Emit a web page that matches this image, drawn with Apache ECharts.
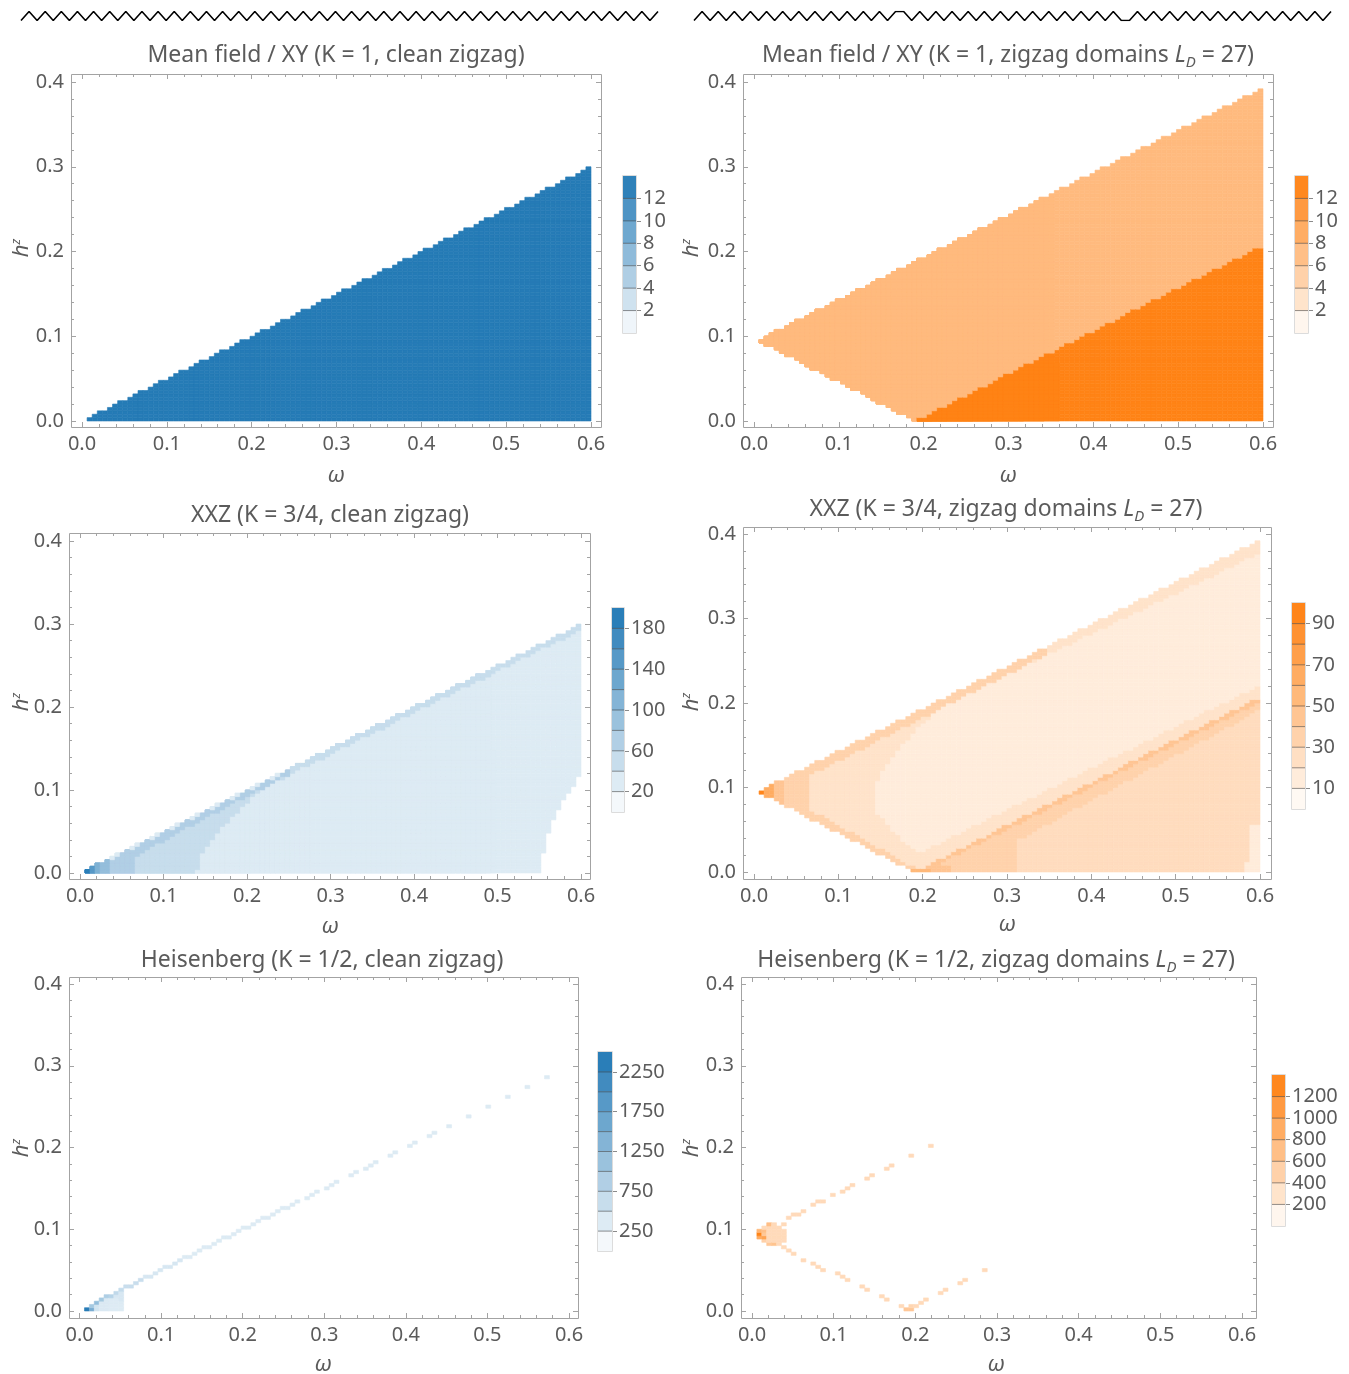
<!DOCTYPE html>
<html><head><meta charset="utf-8">
<script src="https://cdn.jsdelivr.net/npm/echarts@6/dist/echarts.min.js"></script>
<style>html,body{margin:0;padding:0;background:#fff}#c{width:1349px;height:1374px}</style>
</head><body><div id="c"></div><script>
// ================= DATA =================
const omegaTicks = [0.0, 0.1, 0.2, 0.3, 0.4, 0.5, 0.6];
const hTicks = [0.0, 0.1, 0.2, 0.3, 0.4];
const cellW = 0.006, cellH = 0.004;      // scan spacing in omega and h^z

// chain sketches drawn above the two columns (0 = low vertex, 1 = high vertex)
const zigzagClean = [0,1,0,1,0,1,0,1,0,1,0,1,0,1,0,1,0,1,0,1,0,1,0,1,0,1,0,1,0,1,0,1,0,1,0,1,0,1,0,1,
                     0,1,0,1,0,1,0,1,0,1,0,1,0,1,0,1,0,1,0,1,0,1,0,1,0,1,0,1,0,1,0,1,0,1,0,1,0,1,0,1];
const zigzagDomains = [0,1,0,1,0,1,0,1,0,1,0,1,0,1,0,1,0,1,0,1,0,1,0,1,0,1,
                       1,
                       0,1,0,1,0,1,0,1,0,1,0,1,0,1,0,1,0,1,0,1,0,1,0,1,0,1,0,
                       0,
                       1,0,1,0,1,0,1,0,1,0,1,0,1,0,1,0,1,0,1,0,1,0,1,0,1];

// Panel titles
const titles = [
  ['Mean field / XY (K = 1, clean zigzag)', null],
  ['Mean field / XY (K = 1, zigzag domains ', ' = 27)'],
  ['XXZ (K = 3/4, clean zigzag)', null],
  ['XXZ (K = 3/4, zigzag domains ', ' = 27)'],
  ['Heisenberg (K = 1/2, clean zigzag)', null],
  ['Heisenberg (K = 1/2, zigzag domains ', ' = 27)']
];

// Colour-bar levels and labelled values
const cbLevels1 = [0,2,4,6,8,10,12,14];
const cbLabels1 = [2,4,6,8,10,12];
const cbLevels2 = [0,2,4,6,8,10,12,14];
const cbLabels2 = [2,4,6,8,10,12];
const cbLevels3 = [0,20,40,60,80,100,120,140,160,180,200];
const cbLabels3 = [20,60,100,140,180];
const cbLevels4 = [0,10,20,30,40,50,60,70,80,90,100];
const cbLabels4 = [10,30,50,70,90];
const cbLevels5 = [0,250,500,750,1000,1250,1500,1750,2000,2250,2500];
const cbLabels5 = [250,750,1250,1750,2250];
const cbLevels6 = [0,200,400,600,800,1000,1200,1400];
const cbLabels6 = [200,400,600,800,1000,1200];

// Panel 1: mean field, clean zigzag  (region [omega,h] polygon and its value)
const mfCleanSupport = [[0.005,0],[0.61,0],[0.61,0.305],[0.005,0.0025]];
const mfCleanBase = 13.6;
const mfCleanLayers = [];

// Panel 2: mean field, domains
const mfDomainSupport = [[0.004,0.095],[0.61,0.398],[0.61,0],[0.19,0]];
const mfDomainBase = 7.5;
const mfDomainLayers = [
  [13.6, [[0.19,0],[0.61,0],[0.61,0.2125]]]
];

// Panel 3: XXZ, clean zigzag
const xxzCleanSupport = [[0.005,0],[0.552,0],[0.552,0.024],[0.558,0.024],[0.558,0.048],[0.564,0.048],
  [0.564,0.064],[0.570,0.064],[0.570,0.076],[0.576,0.076],[0.576,0.088],[0.582,0.088],[0.582,0.096],
  [0.588,0.096],[0.588,0.104],[0.594,0.104],[0.594,0.116],[0.61,0.116],[0.61,0.305],[0.005,0.0025]];
const xxzCleanBase = 30;
const xxzCleanLayers = [
  [50, [[0.005,0],[0.14,0],[0.146,0.024],[0.158,0.04],[0.17,0.055],[0.183,0.067],[0.2,0.084],[0.216,0.098],
        [0.236,0.11],[0.255,0.12],[0.4,0.1925],[0.61,0.2975],[0.61,0.4],[0.005,0.4]]],
  [70, [[0.036,0],[0.068,0],[0.068,0.02],[0.12,0.05],[0.25,0.118],[0.25,0.4],[0.036,0.4]]],
  [30, [[0.036,0.016],[0.25,0.123],[0.25,0.4],[0.036,0.4]]],
  [95, [[0.024,0],[0.036,0],[0.036,0.4],[0.024,0.4]]],
  [115,[[0.018,0],[0.024,0],[0.024,0.4],[0.018,0.4]]],
  [150,[[0.012,0],[0.018,0],[0.018,0.4],[0.012,0.4]]],
  [190,[[0.006,0],[0.012,0],[0.012,0.4],[0.006,0.4]]]
];

// Panel 4: XXZ, domains
const xxzDomainSupport = [[0.004,0.095],[0.61,0.398],[0.61,0],[0.19,0]];
const xxzDomainBase = 22;
const xxzDomainLayers = [
  [27, [[0.19,0],[0.61,0],[0.61,0.2125]]],
  [15, [[0.144,0.094],[0.147,0.07],[0.16,0.053],[0.176,0.038],[0.195,0.022],[0.61,0.226],[0.61,0.382],
        [0.334,0.25],[0.295,0.235],[0.254,0.215],[0.224,0.195],[0.2,0.176],[0.183,0.156],[0.167,0.14],
        [0.156,0.124],[0.144,0.105]]],
  [35, [[0.004,0.095],[0.35,0.268],[0.35,0.259],[0.03,0.095],[0.2,0],[0.19,0]]],
  [35, [[0.19,0],[0.61,0.2125],[0.61,0.197],[0.312,0.037],[0.312,0]]],
  [45, [[0.19,0],[0.61,0.2125],[0.61,0.206],[0.2,0]]],
  [35, [[0.036,0],[0.066,0],[0.066,0.4],[0.036,0.4]]],
  [45, [[0.024,0],[0.036,0],[0.036,0.4],[0.024,0.4]]],
  [65, [[0.012,0],[0.024,0],[0.024,0.4],[0.012,0.4]]],
  [95, [[0.006,0],[0.012,0],[0.012,0.4],[0.006,0.4]]],
  [55, [[0.186,0],[0.212,0],[0.212,0.004],[0.186,0.004]]],
  [45, [[0.212,0],[0.236,0],[0.236,0.008],[0.212,0.008]]],
  [15, [[0.588,0],[0.61,0],[0.61,0.056],[0.588,0.056]]],
  [15, [[0.582,0],[0.588,0],[0.588,0.012],[0.582,0.012]]]
];

// Panel 5: Heisenberg, clean zigzag  -- cells [column, row, value]
const heisCleanOrigin = [[1,0,2400],[2,0,1500],[2,1,1000],[3,0,500],[3,1,500],[3,2,1200],
  [4,0,400],[4,1,400],[4,2,400],[4,3,1000],[5,0,400],[5,1,400],[5,2,400],[5,3,400],[5,4,900],
  [6,0,375],[6,1,375],[6,2,375],[6,3,375],[6,4,800],[7,0,375],[7,1,375],[7,2,375],[7,3,375],[7,4,450],[7,5,700],
  [8,0,375],[8,1,375],[8,2,375],[8,3,450],[8,4,450],[8,5,450],[8,6,650]];
const heisCleanLine = [[9,7,600],[10,7,600],[11,8,600],[12,9,600],[13,10,450],[14,10,450],[15,11,450],[16,12,450],
  [17,13,450],[18,13,450],[19,14,450],[20,15,450],[21,16,375],[22,16,375],[23,17,375],[24,18,375],[25,19,375],
  [26,19,375],[27,20,375],[28,21,375],[29,22,375],[30,22,375],[31,23,375],[32,24,375],[33,25,375],[34,25,375],
  [35,26,375],[36,27,375],[37,28,375],[38,28,375],[39,29,375],[40,30,375],[41,31,375],[42,31,375]];
const heisCleanSparse = [[43,32,375],[44,33,375],[46,34,375],[47,35,375],[48,36,375],[50,37,375],[51,38,375],
  [52,39,375],[55,41,375],[56,42,375],[58,43,375],[59,44,375],[60,45,375],[63,47,375],[64,48,375],[67,50,375],
  [68,51,375],[71,53,375],[72,54,375],[75,56,375],[79,59,375],[83,62,375],[87,65,375],[91,68,375],[95,71,375]];

// Panel 6: Heisenberg, domains -- cells [column, row, value]
const heisDomainTip = [[1,22,900],[1,23,1350],[1,24,800],[2,21,500],[2,22,1000],[2,23,600],[2,24,700],[2,25,400],
  [3,20,600],[3,21,400],[3,22,400],[3,23,400],[3,24,400],[3,25,400],[3,26,700],
  [4,20,650],[4,21,400],[4,22,400],[4,23,400],[4,24,400],[4,25,400],[4,26,400],
  [5,21,400],[5,22,400],[5,23,400],[5,24,400],[6,21,400],[6,22,400],[6,23,400],[6,24,400]];
const heisDomainUpper = [[5,25,400],[6,26,400],[7,28,400],[8,29,400],[9,29,400],[10,30,400],[12,32,400],[13,33,400],
  [14,33,400],[16,35,400],[18,36,400],[19,37,400],[20,38,400],[23,40,400],[24,41,400],[27,43,400],[28,44,400],
  [32,47,400],[36,50,400]];
const heisDomainLower = [[5,20,400],[6,19,400],[7,18,400],[8,17,400],[10,15,400],[12,14,400],[13,13,400],[14,12,400],
  [17,11,400],[18,10,400],[19,9,400],[22,7,400],[23,6,400],[26,4,400],[27,3,400],[30,1,400],[31,0,600],[32,0,600],
  [32,1,450],[33,1,400],[34,2,400],[35,3,400],[38,5,400],[39,6,400],[42,8,400],[43,9,400],[47,12,400]];

// ================= LAYOUT / STYLE =================
const FONT = '"Noto Sans", "DejaVu Sans", sans-serif';
const TXT = '#5b5b5b';
const AXC = '#a3a3a3';
const BLUE = [31,119,180], ORANGE = [255,127,14];
const L = [
  {x0:82,  x1:591,  yb:421,  yt:82,  fr:[71,74,601,427],   cb:[623,13,176,333],   t:[336,55],   w:[336,476],  h:[22,248],  col:BLUE},
  {x0:754, x1:1263, yb:421,  yt:82,  fr:[743,74,1273,427], cb:[1295,13,176,333],  t:[1008,55],  w:[1008,476], h:[692,248], col:ORANGE},
  {x0:80,  x1:581,  yb:873,  yt:541, fr:[69,533,590,879],  cb:[612,12,608,812],   t:[330,515],  w:[330,927],  h:[22,702],  col:BLUE},
  {x0:754, x1:1260, yb:872,  yt:534, fr:[743,527,1271,879],cb:[1292,13,603,809],  t:[1006,509], w:[1007,925], h:[692,702], col:ORANGE},
  {x0:79.6,x1:569,  yb:1311, yt:984, fr:[69,977,578,1318], cb:[598,14,1052,1251], t:[322,960],  w:[323,1365], h:[22,1148], col:BLUE},
  {x0:752, x1:1242, yb:1311, yt:984, fr:[741,977,1256,1318],cb:[1272,13,1075,1226],t:[996,960], w:[996,1365], h:[692,1148], col:ORANGE}
];
const cbLevels = [cbLevels1, cbLevels2, cbLevels3, cbLevels4, cbLevels5, cbLevels6];
const cbLabels = [cbLabels1, cbLabels2, cbLabels3, cbLabels4, cbLabels5, cbLabels6];

// ================= BUILD =================
function inPoly(x, y, poly) {
  let inside = false;
  for (let a = 0, b = poly.length - 1; a < poly.length; b = a++) {
    const xi = poly[a][0], yi = poly[a][1], xj = poly[b][0], yj = poly[b][1];
    if (((yi > y) !== (yj > y)) && (x < (xj - xi) * (y - yi) / (yj - yi) + xi)) inside = !inside;
  }
  return inside;
}
function rasterize(support, base, layers, cells) {
  const out = new Map();
  if (support) {
    for (let i = 1; i < 100; i++) for (let j = 0; j < 100; j++) {
      const cx = (i + 0.5) * cellW, cy = (j + 0.5) * cellH;
      if (!inPoly(cx, cy, support)) continue;
      let v = base;
      for (const [lv, poly] of layers) if (inPoly(cx, cy, poly)) v = lv;
      out.set(i + ',' + j, v);
    }
  }
  for (const [i, j, v] of cells) out.set(i + ',' + j, v);
  const res = [];
  out.forEach((v, k) => { const [i, j] = k.split(',').map(Number);
    res.push([i * cellW, j * cellH, (i + 1) * cellW, (j + 1) * cellH, v]); });
  return res;
}
function mix(base, t) {
  t = Math.max(0, Math.min(1, t));
  const c = base.map(b => Math.round(255 + (b - 255) * t));
  return 'rgb(' + c[0] + ',' + c[1] + ',' + c[2] + ')';
}

const heatSets = [
  rasterize(mfCleanSupport, mfCleanBase, mfCleanLayers, []),
  rasterize(mfDomainSupport, mfDomainBase, mfDomainLayers, []),
  rasterize(xxzCleanSupport, xxzCleanBase, xxzCleanLayers, []),
  rasterize(xxzDomainSupport, xxzDomainBase, xxzDomainLayers, []),
  rasterize(null, 0, [], heisCleanOrigin.concat(heisCleanLine, heisCleanSparse)),
  rasterize(null, 0, [], heisDomainTip.concat(heisDomainUpper, heisDomainLower))
];

const grid = [], xAxis = [], yAxis = [], series = [], graphic = [];
const tickStyle = {color: AXC, width: 1};

L.forEach((g) => grid.push({left: g.x0, top: g.yt, width: g.x1 - g.x0, height: g.yb - g.yt}));
L.forEach((g) => grid.push({left: g.cb[0], top: g.cb[2], width: g.cb[1], height: g.cb[3] - g.cb[2]}));
grid.push({left: 21, top: 11.5, width: 637, height: 9});
grid.push({left: 694, top: 11.5, width: 637, height: 9});

const labelStyle = {color: TXT, fontSize: 20, fontFamily: FONT};
L.forEach((g, p) => {
  const common = {gridIndex: p, type: 'value', splitLine: {show: false}, axisLine: {show: false, onZero: false},
    axisTick: {show: true, inside: true, length: 5, lineStyle: tickStyle},
    minorTick: {show: true, splitNumber: 5, length: 3, lineStyle: tickStyle}};
  xAxis.push(Object.assign({}, common, {min: 0, max: 0.6, interval: 0.1, position: 'bottom', offset: g.fr[3] - g.yb,
    axisLabel: Object.assign({show: true, margin: 7, formatter: v => v.toFixed(1)}, labelStyle)}));
  xAxis.push(Object.assign({}, common, {min: 0, max: 0.6, interval: 0.1, position: 'top', offset: g.yt - g.fr[1],
    axisLabel: {show: false}}));
  yAxis.push(Object.assign({}, common, {min: 0, max: 0.4, interval: 0.1, position: 'left', offset: g.x0 - g.fr[0],
    axisLabel: Object.assign({show: true, margin: 7, formatter: v => v.toFixed(1)}, labelStyle)}));
  yAxis.push(Object.assign({}, common, {min: 0, max: 0.4, interval: 0.1, position: 'right', offset: g.fr[2] - g.x1,
    axisLabel: {show: false}}));
});
L.forEach((g, p) => {
  const lv = cbLevels[p];
  xAxis.push({gridIndex: 6 + p, type: 'value', min: 0, max: 1, show: false});
  yAxis.push({gridIndex: 6 + p, type: 'value', min: 0, max: lv[lv.length - 1], position: 'right',
    splitLine: {show: false}, axisLine: {show: false, onZero: false},
    axisTick: {show: true, length: 5, customValues: cbLabels[p], lineStyle: {color: '#8a8a8a'}},
    axisLabel: Object.assign({show: true, margin: 7, customValues: cbLabels[p], formatter: v => String(v)}, labelStyle)});
});
xAxis.push({gridIndex: 12, type: 'value', min: 0, max: 79, show: false});
yAxis.push({gridIndex: 12, type: 'value', min: 0, max: 1, show: false});
xAxis.push({gridIndex: 13, type: 'value', min: 0, max: 79, show: false});
yAxis.push({gridIndex: 13, type: 'value', min: 0, max: 1, show: false});

// heatmap cells
heatSets.forEach((cells, p) => {
  const vmax = cbLevels[p][cbLevels[p].length - 1];
  series.push({type: 'custom', xAxisIndex: 2 * p, yAxisIndex: 2 * p, data: cells, silent: true, animation: false,
    renderItem: (params, api) => {
      const a = api.coord([api.value(0), api.value(1)]);
      const b = api.coord([api.value(2), api.value(3)]);
      const col = mix(L[p].col, api.value(4) / vmax);
      return {type: 'rect', shape: {x: a[0], y: b[1], width: b[0] - a[0], height: a[1] - b[1]},
        style: {fill: col, stroke: col, lineWidth: 0.6}};
    }});
});
// colour bars
L.forEach((g, p) => {
  const lv = cbLevels[p], vmax = lv[lv.length - 1];
  const segs = []; for (let k = 0; k + 1 < lv.length; k++) segs.push([lv[k], lv[k + 1]]);
  series.push({type: 'custom', xAxisIndex: 12 + p, yAxisIndex: 12 + p, data: segs, silent: true, animation: false,
    renderItem: (params, api) => {
      const lo = api.value(0), hi = api.value(1);
      const a = api.coord([0, lo]), b = api.coord([1, hi]);
      const children = [{type: 'rect', shape: {x: a[0], y: b[1], width: b[0] - a[0], height: a[1] - b[1]},
        style: {fill: mix(g.col, (lo + hi) / 2 / vmax)}}];
      if (lo > 0) children.push({type: 'line', shape: {x1: a[0], y1: a[1], x2: b[0], y2: a[1]},
        style: {stroke: 'rgba(40,40,40,0.5)', lineWidth: 1}});
      return {type: 'group', children};
    }});
  graphic.push({type: 'rect', shape: {x: g.cb[0] - 0.5, y: g.cb[2] - 0.5, width: g.cb[1] + 1, height: g.cb[3] - g.cb[2] + 1},
    style: {fill: 'none', stroke: '#dcdcdc', lineWidth: 1}, silent: true, z: 10});
});
// zigzag sketches
series.push({type: 'line', xAxisIndex: 18, yAxisIndex: 18, data: zigzagClean.map((v, k) => [k, v]), symbol: 'none',
  lineStyle: {color: '#000', width: 1.6}, animation: false, silent: true});
series.push({type: 'line', xAxisIndex: 19, yAxisIndex: 19, data: zigzagDomains.map((v, k) => [k, v]), symbol: 'none',
  lineStyle: {color: '#000', width: 1.6}, animation: false, silent: true});

// frames, titles, axis names
const rich = {
  a: {fontSize: 23, fontFamily: FONT, fill: TXT, color: TXT, lineHeight: 30, verticalAlign: 'middle'},
  i: {fontSize: 23, fontFamily: FONT, fontStyle: 'italic', fill: TXT, color: TXT, lineHeight: 30, verticalAlign: 'middle'},
  s: {fontSize: 15, fontFamily: FONT, fontStyle: 'italic', fill: TXT, color: TXT, lineHeight: 15, verticalAlign: 'bottom'},
  h: {fontSize: 22, fontFamily: FONT, fontStyle: 'italic', fill: TXT, color: TXT, lineHeight: 24, verticalAlign: 'middle'},
  z: {fontSize: 13, fontFamily: FONT, fontStyle: 'italic', fill: TXT, color: TXT, lineHeight: 13, verticalAlign: 'top'}
};
L.forEach((g, p) => {
  graphic.push({type: 'rect', shape: {x: g.fr[0] + 0.5, y: g.fr[1] + 0.5, width: g.fr[2] - g.fr[0], height: g.fr[3] - g.fr[1]},
    style: {fill: 'none', stroke: AXC, lineWidth: 1}, silent: true, z: 10});
  const tt = titles[p];
  const text = tt[1] === null ? '{a|' + tt[0] + '}' : '{a|' + tt[0] + '}{i|L}{s|D}{a|' + tt[1] + '}';
  graphic.push({type: 'text', x: g.t[0], y: g.t[1], silent: true, z: 10,
    style: {text, rich, x: 0, y: 0, align: 'center', verticalAlign: 'middle', textAlign: 'center', textVerticalAlign: 'middle'}});
  graphic.push({type: 'text', x: g.w[0], y: g.w[1], silent: true, z: 10,
    style: {text: '\u03c9', x: 0, y: 0, font: 'italic 22px ' + FONT, fill: TXT, align: 'center', verticalAlign: 'middle',
      textAlign: 'center', textVerticalAlign: 'middle'}});
  graphic.push({type: 'text', x: g.h[0], y: g.h[1], rotation: Math.PI / 2, silent: true, z: 10,
    style: {text: '{h|h}{z|z}', rich, x: 0, y: 0, align: 'center', verticalAlign: 'middle', textAlign: 'center', textVerticalAlign: 'middle'}});
});

const chart = echarts.init(document.getElementById('c'), null, {renderer: 'canvas'});
chart.setOption({animation: false, backgroundColor: '#fff', grid, xAxis, yAxis, series, graphic});
</script></body></html>
